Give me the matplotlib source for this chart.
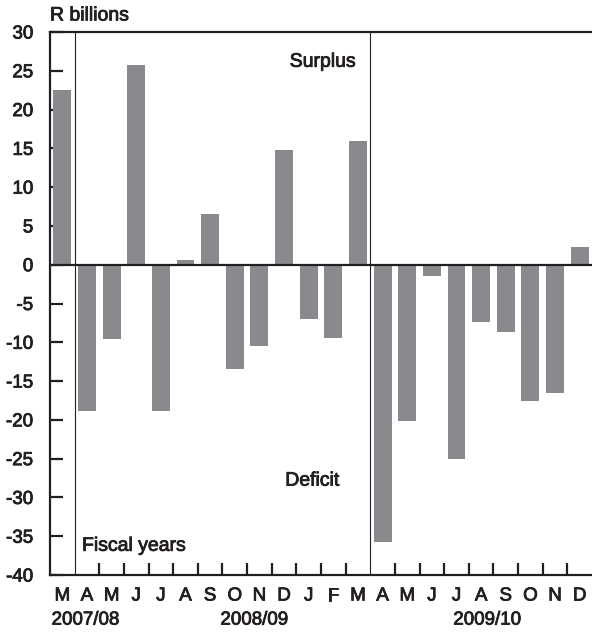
import matplotlib
matplotlib.use("Agg")
import matplotlib.pyplot as plt
import matplotlib.patheffects as pe
import numpy as np

plt.rcParams['font.family'] = ['Liberation Sans', 'DejaVu Sans']

# monthly budget balance, R billions
months = ['M', 'A', 'M', 'J', 'J', 'A', 'S', 'O', 'N', 'D', 'J', 'F', 'M',
          'A', 'M', 'J', 'J', 'A', 'S', 'O', 'N', 'D']
values = [22.5, -18.8, -9.6, 25.8, -18.8, 0.65, 6.6, -13.4, -10.5, 14.8, -7.05, -9.4, 15.9,
          -35.8, -20.1, -1.4, -25.1, -7.4, -8.7, -17.6, -16.5, 2.3]
fiscal_years = ['2007/08', '2008/09', '2009/10']
year_breaks = [1, 13]
yticks = list(range(-40, 31, 5))

bar_col = '#898a8e'
ink = '#231f20'
# thicken glyphs a little, the original uses a medium weight
heavy = [pe.withStroke(linewidth=0.6, foreground=ink)]

fig = plt.figure(figsize=(5.92, 6.32), dpi=100)
ax = fig.add_axes([50/592, 1-575/632, 542/592, (575-32)/632])

x = np.arange(len(values)) + 0.5
ax.bar(x, values, width=0.73, color=bar_col, zorder=2)
ax.axhline(0, color=ink, lw=1.6, zorder=3)
for b in year_breaks:
    ax.axvline(b, color=ink, lw=0.8, zorder=3)

ax.set_xlim(0, len(values))
ax.set_ylim(-40, 30)

for s in ['left', 'bottom', 'top']:
    ax.spines[s].set_linewidth(1.6)
    ax.spines[s].set_color(ink)
ax.spines['right'].set_visible(False)

ax.set_yticks(yticks)
ax.set_yticklabels([str(t) for t in yticks])
ax.tick_params(axis='y', direction='in', length=9.5, width=1.6, color=ink,
               labelsize=13.5, pad=12, labelcolor=ink)

bounds = [b for b in range(1, len(values)) if b not in year_breaks]
ax.set_xticks(bounds)
ax.set_xticklabels([''] * len(bounds))
ax.tick_params(axis='x', which='major', direction='in', length=9, width=1.6, color=ink)
ax.set_xticks(x, minor=True)
ax.set_xticklabels(months, minor=True)
ax.tick_params(axis='x', which='minor', length=0, labelsize=13.5, pad=9, labelcolor=ink)

for lbl in ax.get_yticklabels() + ax.get_xticklabels(minor=True):
    lbl.set_path_effects(heavy)

year_pos = [1.45, 8.3, 17.75]
for yr, p in zip(fiscal_years, year_pos):
    ax.text(p, -0.083, yr, transform=ax.get_xaxis_transform(), ha='center', va='center',
            fontsize=13.5, color=ink, path_effects=heavy)

ax.text(11.08, 26.1, 'Surplus', ha='center', va='center', fontsize=14, color=ink, path_effects=heavy)
ax.text(10.65, -27.9, 'Deficit', ha='center', va='center', fontsize=14, color=ink, path_effects=heavy)
ax.text(1.3, -36.3, 'Fiscal years', ha='left', va='center', fontsize=14, color=ink, path_effects=heavy)
fig.text(50/592, 1-16/632, 'R billions', ha='left', va='center', fontsize=14, color=ink,
         path_effects=heavy)

fig.savefig('out.png', dpi=100)
